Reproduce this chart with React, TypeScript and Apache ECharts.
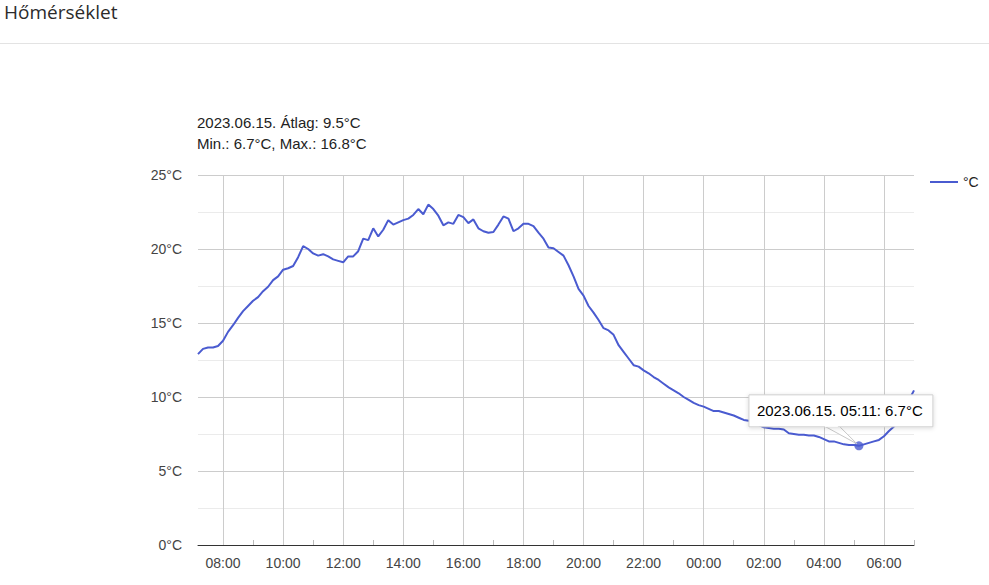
import React, { useEffect, useRef } from 'react';
import * as echarts from 'echarts';

// 10 perces mérések 07:11-től másnap 07:01-ig
const START_MIN = 7 * 60 + 11;
const STEP_MIN = 10;

const morning = [
  12.9, 13.25, 13.35, 13.35, 13.45, 13.8, 14.4, 14.85, 15.35, 15.8, 16.15, 16.5,
  16.75, 17.15, 17.45, 17.9, 18.15, 18.6, 18.7, 18.85, 19.45, 20.2, 20.0, 19.7,
  19.55, 19.65, 19.5, 19.3, 19.2, 19.1, 19.5, 19.5, 19.85, 20.7, 20.6, 21.4,
];
const afternoon = [
  20.85, 21.3, 21.95, 21.65, 21.8, 21.95, 22.05, 22.3, 22.7, 22.35, 23.0, 22.7,
  22.25, 21.6, 21.8, 21.7, 22.3, 22.15, 21.75, 22.0, 21.4, 21.2, 21.1, 21.15,
  21.65, 22.2, 22.05, 21.2, 21.4, 21.7, 21.7, 21.55, 21.1, 20.7, 20.1, 20.05,
];
const evening = [
  19.8, 19.55, 18.9, 18.15, 17.3, 16.85, 16.15, 15.7, 15.2, 14.65, 14.5, 14.2,
  13.5, 13.05, 12.6, 12.15, 12.05, 11.8, 11.6, 11.35, 11.15, 10.9, 10.65, 10.45,
  10.25, 10.0, 9.8, 9.6, 9.45, 9.35, 9.2, 9.05, 9.05, 8.95, 8.85, 8.75,
];
const night = [
  8.6, 8.45, 8.4, 8.25, 8.1, 7.95, 7.9, 7.85, 7.85, 7.8, 7.55, 7.5,
  7.45, 7.45, 7.4, 7.4, 7.3, 7.15, 7.0, 7.0, 6.9, 6.8, 6.75, 6.75,
  6.7, 6.8, 6.9, 7.0, 7.1, 7.35, 7.7, 8.0, 8.6, 9.2, 9.8, 10.45,
];

const temps = [...morning, ...afternoon, ...evening, ...night];

const pad = (n: number) => String(n).padStart(2, '0');
const times = temps.map((_, i) => {
  const m = (START_MIN + i * STEP_MIN) % 1440;
  return `${pad(Math.floor(m / 60))}:${pad(m % 60)}`;
});

const DATE = '2023.06.15.';
const tipTime = '05:11';
const tipIndex = times.indexOf(tipTime);
const tipValue = temps[tipIndex];

const FONT = 'Arial, "Liberation Sans", sans-serif';
const LINE = '#4a5bd0';

const isHour = (v: string) => v.endsWith(':01');
const hourOf = (v: string) => parseInt(v.slice(0, 2), 10);

const App: React.FC = () => {
  const chartRef = useRef<HTMLDivElement>(null);

  useEffect(() => {
    if (!chartRef.current) return;
    const chart = echarts.init(chartRef.current, null, { renderer: 'svg' });
    const option: any = {
      animation: false,
      textStyle: { fontFamily: FONT },
      title: {
        text: `${DATE} Átlag: 9.5°C\nMin.: 6.7°C, Max.: 16.8°C`,
        left: 192,
        top: 107,
        textStyle: { fontSize: 15, fontWeight: 'normal', color: '#222', lineHeight: 21, fontFamily: FONT },
      },
      legend: {
        data: ['°C'],
        left: 930,
        top: 175,
        padding: 0,
        icon: 'rect',
        itemWidth: 28,
        itemHeight: 2,
        itemGap: 8,
        textStyle: { fontSize: 14, color: '#222', fontFamily: FONT },
      },
      grid: { left: 198, right: 75, top: 175, bottom: 40 },
      xAxis: {
        type: 'category',
        data: times,
        boundaryGap: false,
        axisLine: { show: true, lineStyle: { color: '#333', width: 1 } },
        axisTick: {
          show: true,
          inside: true,
          length: 5,
          interval: (_: number, v: string) => isHour(v) && hourOf(v) % 2 === 1,
          lineStyle: { color: '#bbb' },
        },
        axisLabel: {
          interval: (_: number, v: string) => isHour(v) && hourOf(v) % 2 === 0,
          formatter: (v: string) => v.slice(0, 3) + '00',
          color: '#444',
          fontSize: 14,
          margin: 11,
        },
        splitLine: {
          show: true,
          interval: (_: number, v: string) => isHour(v) && hourOf(v) % 2 === 0,
          lineStyle: { color: '#ccc' },
        },
      },
      yAxis: {
        type: 'value',
        min: 0,
        max: 25,
        interval: 5,
        axisLine: { show: false },
        axisTick: { show: false },
        axisLabel: { formatter: '{value}°C', color: '#444', fontSize: 14, margin: 16 },
        splitLine: { lineStyle: { color: '#ccc' } },
        minorTick: { show: false, splitNumber: 2 },
        minorSplitLine: { show: true, lineStyle: { color: '#ebebeb' } },
      },
      graphic: [
        {
          type: 'text',
          left: 4,
          top: 2,
          style: {
            text: 'Hőmérséklet',
            fontSize: 19,
            fontFamily: '"Open Sans", "Noto Sans", sans-serif',
            fill: '#2b2b2b',
          },
        },
        {
          type: 'line',
          shape: { x1: 0, y1: 43.5, x2: 989, y2: 43.5 },
          style: { stroke: '#e3e3e3', lineWidth: 1 },
        },
      ],
      series: [
        {
          name: '°C',
          type: 'line',
          data: temps,
          showSymbol: false,
          lineStyle: { color: LINE, width: 2 },
          itemStyle: { color: LINE },
          z: 3,
        },
        {
          name: 'tip',
          type: 'scatter',
          data: [[tipIndex, tipValue]],
          symbolSize: 9,
          itemStyle: { color: LINE },
          z: 4,
        },
      ],
    };
    chart.setOption(option);

    const [px, py] = chart.convertToPixel({ seriesIndex: 0 }, [tipIndex, tipValue]) as number[];
    const bx = px - 110;
    const by = py - 51;
    chart.setOption({
      graphic: [
        ...option.graphic,
        {
          type: 'polygon',
          z: 10,
          shape: { points: [[px - 35, by + 31], [px - 20, by + 31], [px - 2, py - 2]] },
          style: { fill: '#fff', stroke: '#c8c8c8', lineWidth: 1 },
        },
        {
          type: 'rect',
          z: 11,
          shape: { x: bx, y: by, width: 184, height: 32 },
          style: {
            fill: '#fff',
            stroke: '#cfcfcf',
            lineWidth: 1,
            shadowBlur: 4,
            shadowColor: 'rgba(0,0,0,0.15)',
            shadowOffsetY: 1,
          },
        },
        {
          type: 'rect',
          z: 12,
          shape: { x: px - 34, y: by + 30, width: 13, height: 2 },
          style: { fill: '#fff' },
        },
        {
          type: 'text',
          z: 13,
          x: bx + 8,
          y: by + 16,
          style: {
            text: `${DATE} ${tipTime}: ${tipValue}°C`,
            fontSize: 15,
            fontFamily: FONT,
            fill: '#000',
            verticalAlign: 'middle',
          },
        },
      ],
    });

    return () => {
      chart.dispose();
    };
  }, []);

  return (
    <div
      ref={chartRef}
      style={{ position: 'fixed', left: 0, top: 0, width: '989px', height: '585px', background: '#fff' }}
    ></div>
  );
};

export default App;
